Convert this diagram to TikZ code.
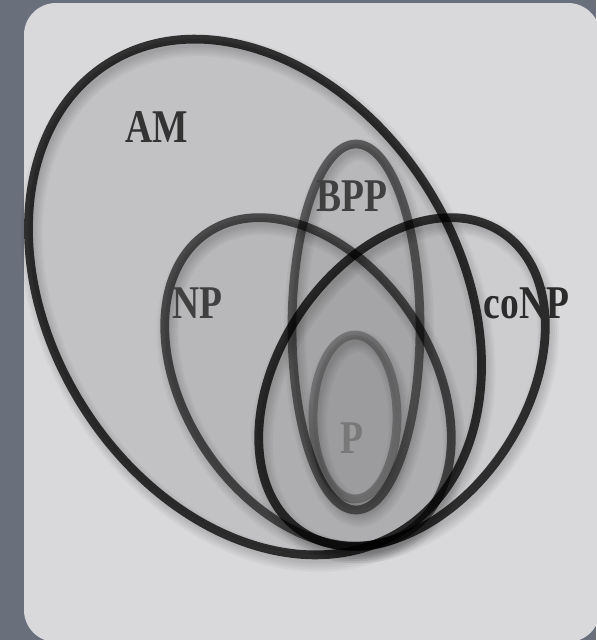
\documentclass[tikz,border=0pt]{standalone}
\usepackage{fontspec}
\usepackage{tikz}
\newfontfamily\setfont[FakeStretch=0.8]{Liberation Serif Bold}
\definecolor{backdrop}{HTML}{6A6F7C}
\definecolor{panel}{HTML}{D9D9DC}
\tikzset{venn/.style={line width=5pt},
  lbl/.style={font=\setfont\fontsize{26.7}{30}\selectfont,inner sep=0pt,anchor=base}}

\begin{document}
\begin{tikzpicture}[x=0.02cm,y=-0.02cm]
\useasboundingbox (0,0) rectangle (596,640);
\fill[backdrop] (0,0) rectangle (596,640);
\fill[panel,rounded corners=0.64cm] (24,3) rectangle (600,642);
% AM, NP, coNP, BPP, P
\foreach \cx/\cy/\a/\b/\r/\f/\o in {255/297/276/204/-58/0.1/0.76,308/382/180/123/-56/0.05/0.6,
    402/382/180/123/56/0.05/0.76,356/327/64/183/0/0.05/0.5,355/417/42/82/0/0.05/0.26}{
  \foreach \s in {1,...,5}
    \draw[black,opacity=0.035,line width=\s*2.5pt,rotate around={\r:(\cx+3,\cy+6)}] (\cx+3,\cy+6) ellipse[x radius=\a,y radius=\b];
  \fill[black,opacity=\f,rotate around={\r:(\cx,\cy)}] (\cx,\cy) ellipse[x radius=\a,y radius=\b];
  \draw[venn,draw opacity=\o,rotate around={\r:(\cx,\cy)}] (\cx,\cy) ellipse[x radius=\a,y radius=\b];
}
\node[lbl,text=black!80] (am) at (157,142) {AM};
\node[lbl,text=black!75] (bpp) at (351.5,211) {BPP};
\node[lbl,text=black!75] (np) at (197.5,318) {NP};
\node[lbl,text=black!83] (conp) at (526.5,318) {coNP};
\node[lbl,text=black!53] (p) at (351.5,453) {P};
\end{tikzpicture}
\end{document}
